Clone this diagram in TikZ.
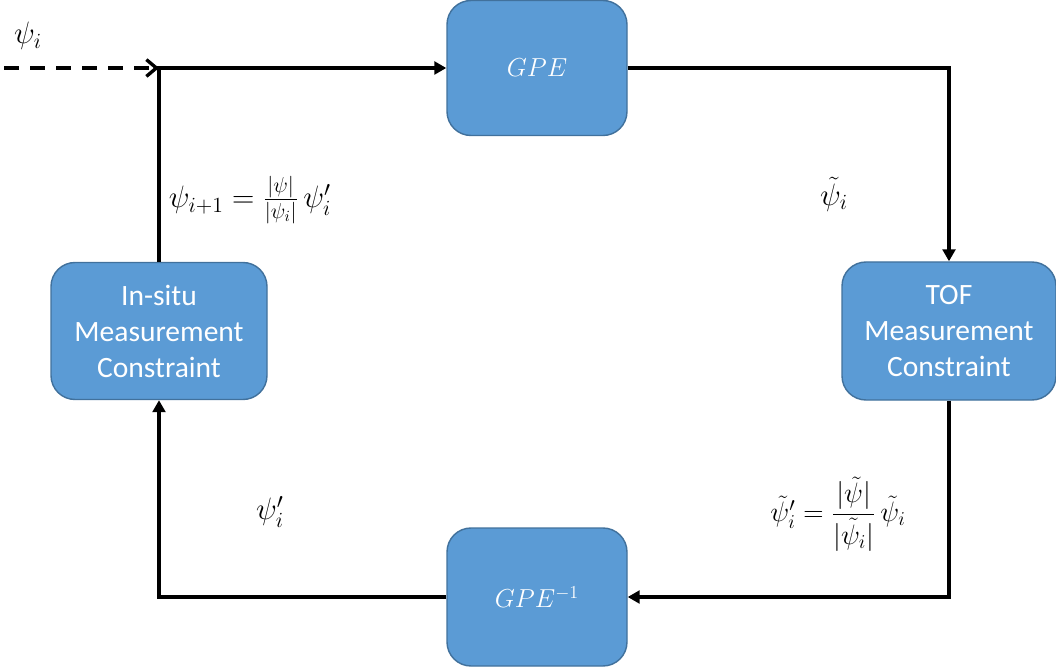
\RequirePackage{fix-cm}
\documentclass[tikz,border=0pt]{standalone}
\usepackage{amsmath}
\usepackage{fontspec}
\setmainfont{Carlito}
\usepackage{xcolor}
\definecolor{boxblue}{RGB}{91,155,213}
\definecolor{boxedge}{RGB}{65,113,156}
\usetikzlibrary{arrows.meta, positioning}

\tikzset{
  stage/.style={draw=boxedge, line width=1pt, fill=boxblue, rounded corners=0.6cm,
    text=white, align=center, font=\fontsize{21}{25.6}\selectfont, inner sep=0pt},
  solver/.style={stage, minimum width=4.5cm, font=\fontsize{18.5}{22}\selectfont},
  flow/.style={line width=2.4pt, -{Triangle[length=0.3cm, width=0.32cm]}},
  feed/.style={line width=2.4pt, dash pattern=on 10.5pt off 8pt,
    -{Straight Barb[length=0.25cm, width=0.42cm, line width=2.4pt]}},
  eqn/.style={font=\fontsize{22}{26}\selectfont}
}

\begin{document}
\begin{tikzpicture}
  \useasboundingbox (0,0) rectangle (26.4,16.7);

  % --- Stages ---
  \node[solver, minimum height=3.375cm] (gpe) at (13.425,15.0) {$GPE$};
  \node[stage, minimum width=5.35cm, minimum height=3.45cm] (tof) at (23.725,8.425)
    {TOF\\Measurement\\Constraint};
  \node[solver, minimum height=3.45cm] (gpeinv) at (13.425,1.775) {$GPE^{-1}$};
  \node[stage, minimum width=5.4cm, minimum height=3.425cm] (insitu) at (3.975,8.425)
    {In-situ\\Measurement\\Constraint};

  % --- Loop ---
  \coordinate (start) at (0.1,15.0);
  \coordinate (corner) at (insitu.north |- gpe.west);
  \draw[feed] (start) -- (corner);
  \draw[flow] (insitu.north) |- (gpe.west);
  \draw[flow] (gpe.east) -| (tof.north);
  \draw[flow] (tof.south) |- (gpeinv.east);
  \draw[flow] (gpeinv.west) -| (insitu.south);

  % --- Labels ---
  \node[eqn] (psi) at (0.7,15.8) {$\psi_i$};
  \node[eqn] (update) at (6.25,11.7) {$\psi_{i+1}=\frac{|\psi|}{|\psi_i|}\,\psi_i'$};
  \node[eqn] (psitilde) at (20.85,11.85) {$\tilde{\psi}_i$};
  \node[eqn, font=\fontsize{20}{24}\selectfont] (tofupdate) at (20.95,3.85)
    {$\tilde{\psi}_i'=\dfrac{|\tilde{\psi}|}{|\tilde{\psi}_i|}\,\tilde{\psi}_i$};
  \node[eqn] (psiprime) at (6.75,3.9) {$\psi_i'$};
\end{tikzpicture}
\end{document}
